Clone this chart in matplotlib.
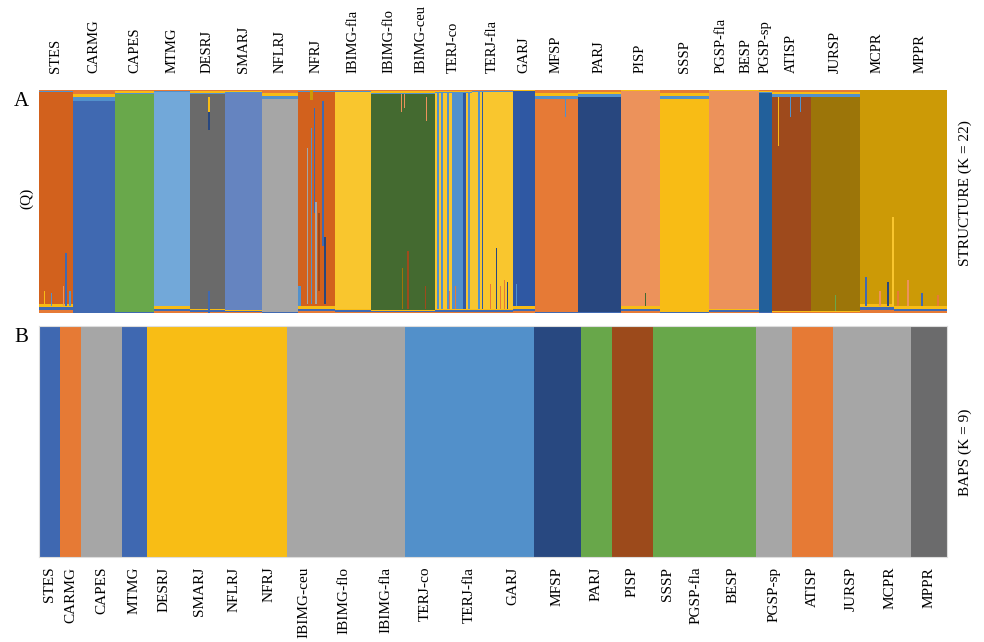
import numpy as np
import matplotlib
matplotlib.use("Agg")
import matplotlib.pyplot as plt

plt.rcParams['font.family'] = ['Liberation Serif', 'DejaVu Serif']

# ---------------- Panel A : STRUCTURE (K = 22) ----------------
pops_A = ["STES", "CARMG", "CAPES", "MTMG", "DESRJ", "SMARJ", "NFLRJ", "NFRJ",
          "IBIMG-fla", "IBIMG-flo", "IBIMG-ceu", "TERJ-co", "TERJ-fla", "GARJ",
          "MFSP", "PARJ", "PISP", "SSSP", "PGSP-fla", "BESP", "PGSP-sp", "ATISP",
          "JURSP", "MCPR", "MPPR"]
sizes_A = [34, 42, 39, 36, 35, 37, 36, 37, 36, 35, 29, 37, 41, 22, 43, 43, 39,
           49, 25, 25, 13, 39, 49, 34, 53]
cluster_A = ["rust", "royal", "green", "sky", "charcoal", "periwinkle", "silver",
             "rust", "gold", "forest", "forest", "gold", "gold", "cobalt",
             "orange", "navy", "salmon", "amber", "salmon", "salmon", "steel",
             "brown", "olive", "mustard", "mustard"]
top_mix_A = [0.01, 0.05, 0.02, 0.01, 0.02, 0.015, 0.04, 0.01, 0.01, 0.02, 0.02,
             0.015, 0.01, 0.005, 0.04, 0.03, 0.005, 0.04, 0.005, 0.005, 0.015,
             0.03, 0.03, 0.0, 0.0]
bot_mix_A = [0.04, 0.0, 0.005, 0.03, 0.02, 0.015, 0.005, 0.03, 0.02, 0.015,
             0.015, 0.02, 0.02, 0.03, 0.005, 0.005, 0.03, 0.005, 0.02, 0.02,
             0.005, 0.01, 0.01, 0.04, 0.03]

# admixed individuals: population, offset in population, width, cluster, Q from, Q to
stripe_pop = ["STES", "STES", "STES", "STES", "STES",
              "DESRJ", "DESRJ", "DESRJ",
              "NFRJ", "NFRJ", "NFRJ", "NFRJ", "NFRJ", "NFRJ", "NFRJ", "NFRJ", "NFRJ",
              "IBIMG-flo", "IBIMG-flo", "IBIMG-flo", "IBIMG-ceu", "IBIMG-ceu", "IBIMG-ceu",
              "TERJ-co", "TERJ-co", "TERJ-co", "TERJ-co", "TERJ-co", "TERJ-co",
              "TERJ-co", "TERJ-co",
              "TERJ-fla", "TERJ-fla", "TERJ-fla", "TERJ-fla", "TERJ-fla", "TERJ-fla",
              "TERJ-fla",
              "GARJ", "MFSP", "PISP", "ATISP", "ATISP", "ATISP", "JURSP",
              "MCPR", "MCPR", "MCPR", "MCPR",
              "MPPR", "MPPR", "MPPR", "MPPR"]
stripe_off = [26, 24, 5, 12, 30,
              18, 18, 18,
              0, 9, 12, 13, 15.5, 17, 24, 26, 20,
              31, 30, 33, 1, 19, 20,
              2, 6, 12, 17, 28, 33, 20, 14,
              6, 10, 18, 24, 28, 32, 35,
              3, 30, 24, 6, 18, 28, 24,
              5, 19, 27, 32,
              3, 13, 27, 43]
stripe_w = [1.5, 1, 1, 1, 1.5,
            1.5, 1.5, 1.5,
            3, 1, 3, 1, 1.5, 1.5, 1.5, 1.5, 1.5,
            1, 1, 1, 1.5, 1, 1,
            1.5, 2, 1.5, 11, 3, 2, 1, 1,
            1.5, 1, 1, 1, 1, 1, 1,
            1, 1, 1, 1, 1, 1, 1,
            1.5, 1.5, 1.5, 1.5,
            1.5, 1.5, 1.5, 1.5]
stripe_cluster = ["royal", "salmon", "amber", "azure", "azure",
                  "navy", "amber", "royal",
                  "azure", "silver", "mustard", "azure", "royal", "silver", "royal",
                  "navy", "brown",
                  "olive", "salmon", "salmon", "brown", "brown", "salmon",
                  "azure", "azure", "azure", "azure", "cobalt", "azure", "orange",
                  "orange",
                  "azure", "cobalt", "orange", "navy", "orange", "orange", "navy",
                  "azure", "azure", "forest", "amber", "azure", "azure", "green",
                  "royal", "salmon", "navy", "gold",
                  "orange", "salmon", "royal", "orange"]
stripe_q0 = [0.03, 0.03, 0.03, 0.03, 0.03,
             0.82, 0.90, 0.0,
             0.03, 0.04, 0.955, 0.04, 0.45, 0.04, 0.30, 0.04, 0.10,
             0.02, 0.90, 0.92, 0.02, 0.02, 0.86,
             0.02, 0.02, 0.02, 0.02, 0.02, 0.02, 0.02, 0.02,
             0.02, 0.02, 0.02, 0.02, 0.02, 0.02, 0.02,
             0.03, 0.88, 0.03, 0.75, 0.88, 0.90, 0.01,
             0.03, 0.03, 0.03, 0.03,
             0.03, 0.03, 0.03, 0.03]
stripe_q1 = [0.27, 0.12, 0.10, 0.09, 0.10,
             0.90, 0.97, 0.10,
             0.12, 0.74, 1.0, 0.83, 0.92, 0.50, 0.95, 0.34, 0.45,
             0.20, 0.98, 0.98, 0.28, 0.12, 0.97,
             0.985, 0.985, 0.985, 0.985, 0.985, 0.985, 0.12, 0.10,
             0.99, 0.99, 0.13, 0.29, 0.12, 0.15, 0.14,
             0.13, 0.96, 0.09, 0.97, 0.97, 0.97, 0.08,
             0.16, 0.10, 0.14, 0.43,
             0.10, 0.15, 0.09, 0.08]

# ---------------- Panel B : BAPS (K = 9) ----------------
pops_B = ["STES", "CARMG", "CAPES", "MTMG", "DESRJ", "SMARJ", "NFLRJ", "NFRJ",
          "IBIMG-ceu", "IBIMG-flo", "IBIMG-fla", "TERJ-co", "TERJ-fla", "GARJ",
          "MFSP", "PARJ", "PISP", "SSSP", "PGSP-fla", "BESP", "PGSP-sp", "ATISP",
          "JURSP", "MCPR", "MPPR"]
sizes_B = [21, 21, 41, 25, 35, 35, 35, 35, 34, 46, 38, 41, 46, 42, 47, 31, 41,
           28, 30, 45, 36, 41, 37, 41, 36]
cluster_B = ["b_blue", "b_orange", "b_gray", "b_blue", "b_yellow", "b_yellow",
             "b_yellow", "b_yellow", "b_gray", "b_gray", "b_gray", "b_sky",
             "b_sky", "b_sky", "b_navy", "b_green", "b_brown", "b_green",
             "b_green", "b_green", "b_gray", "b_orange", "b_gray", "b_gray",
             "b_dark"]

# ---------------- styles ----------------
palette = {
    "rust": "#D2611D", "royal": "#4069B1", "green": "#69A84B", "sky": "#72A8D9",
    "charcoal": "#6A6A6A", "periwinkle": "#6584C0", "silver": "#A6A6A6",
    "gold": "#F9C62E", "forest": "#446A30", "azure": "#5291CC", "cobalt": "#2F58A3",
    "orange": "#E67A36", "navy": "#28477F", "salmon": "#EC925B", "amber": "#F8BC15",
    "steel": "#22609B", "brown": "#9E4A1C", "olive": "#9C7509", "mustard": "#CC9A06",
    "b_blue": "#3F68B1", "b_orange": "#E67A35", "b_gray": "#A6A6A6",
    "b_yellow": "#F8BD15", "b_sky": "#5290CA", "b_navy": "#284880",
    "b_green": "#68A74A", "b_brown": "#9C4A1B", "b_dark": "#6B6B6C",
}
top_fringe = ["azure", "amber", "orange"]
bot_fringe = ["orange", "royal", "amber"]

W, H = 984, 642
fig = plt.figure(figsize=(W / 100, H / 100), dpi=100)

axA = fig.add_axes([39 / W, 1 - 313 / H, 908 / W, 223 / H])
axB = fig.add_axes([39 / W, 1 - 557 / H, 908 / W, 231 / H])

# --- panel A ---
left_A = np.concatenate([[0], np.cumsum(sizes_A)[:-1]])
start_of = dict(zip(pops_A, left_A))
for x0, w, c, tm, bm in zip(left_A, sizes_A, cluster_A, top_mix_A, bot_mix_A):
    axA.bar(x0, 1 - tm - bm, width=w, bottom=bm, align='edge',
            color=palette[c], linewidth=0)
    if tm > 0:
        for i, fc in enumerate(top_fringe):
            axA.bar(x0, tm / 3, width=w, bottom=1 - tm + i * tm / 3, align='edge',
                    color=palette[fc], linewidth=0)
    if bm > 0:
        for i, fc in enumerate(bot_fringe):
            axA.bar(x0, bm / 3, width=w, bottom=i * bm / 3, align='edge',
                    color=palette[fc], linewidth=0)
for p, off, w, c, q0, q1 in zip(stripe_pop, stripe_off, stripe_w,
                                stripe_cluster, stripe_q0, stripe_q1):
    axA.bar(start_of[p] + off, q1 - q0, width=w, bottom=q0, align='edge',
            color=palette[c], linewidth=0)

axA.set_xlim(0, sum(sizes_A))
axA.set_ylim(0, 1)
axA.set_yticks([])
axA.set_xticks(left_A + np.array(sizes_A) / 2)
axA.set_xticklabels(pops_A, rotation=90, fontsize=10.5)
axA.tick_params(axis='x', top=True, labeltop=True, bottom=False,
                labelbottom=False, length=0, pad=12)
for s in axA.spines.values():
    s.set_visible(False)

# --- panel B ---
left_B = np.concatenate([[0], np.cumsum(sizes_B)[:-1]])
for x0, w, c in zip(left_B, sizes_B, cluster_B):
    axB.bar(x0, 1, width=w, bottom=0, align='edge', color=palette[c], linewidth=0)
axB.set_xlim(0, sum(sizes_B))
axB.set_ylim(0, 1)
axB.set_yticks([])
axB.set_xticks(left_B + np.array(sizes_B) / 2)
axB.set_xticklabels(pops_B, rotation=90, fontsize=11)
axB.tick_params(axis='x', length=0, pad=7)
for s in axB.spines.values():
    s.set_color("#DDDDDD")
    s.set_linewidth(0.8)

# --- side texts ---
fig.text(21 / W, 1 - 102 / H, "A", fontsize=15, ha='center', va='center')
fig.text(27 / W, 1 - 198 / H, "(Q)", fontsize=11, rotation=90, ha='center', va='center')
fig.text(21 / W, 1 - 338 / H, "B", fontsize=15, ha='center', va='center')
fig.text(965 / W, 1 - 193 / H, "STRUCTURE (K = 22)", fontsize=11, rotation=90,
         ha='center', va='center')
fig.text(965 / W, 1 - 452 / H, "BAPS (K = 9)", fontsize=11, rotation=90,
         ha='center', va='center')

fig.savefig("out.png", dpi=100)
